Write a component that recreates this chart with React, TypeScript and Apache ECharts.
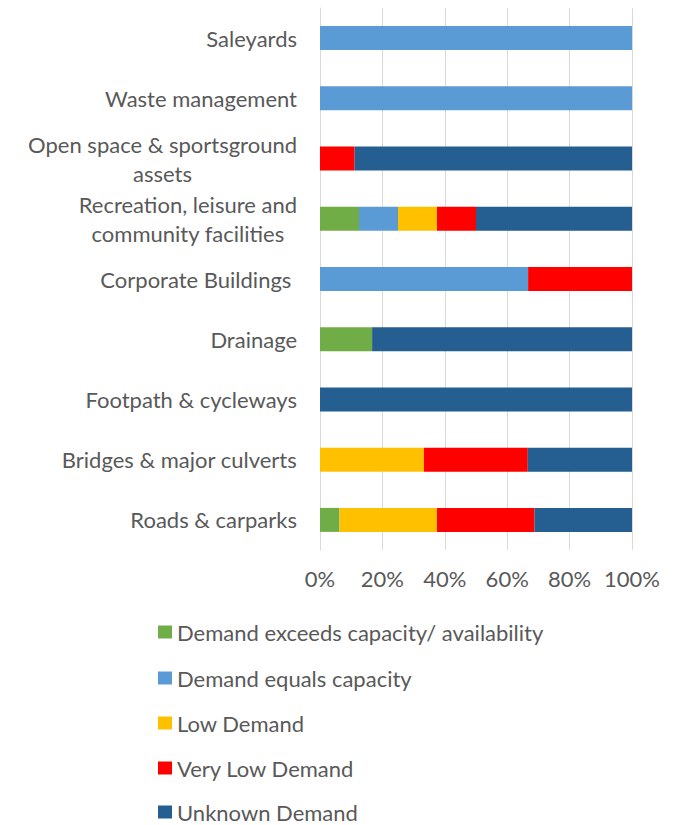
import React, { useEffect, useRef } from "react";
import * as echarts from "echarts";

const categories = [
  "Roads & carparks",
  "Bridges & major culverts",
  "Footpath & cycleways",
  "Drainage",
  "Corporate Buildings ",
  "Recreation, leisure and\ncommunity facilities",
  "Open space & sportsground\nassets",
  "Waste management",
  "Saleyards",
];

const seriesNames = [
  "Demand exceeds capacity/ availability",
  "Demand equals capacity",
  "Low Demand",
  "Very Low Demand",
  "Unknown Demand",
];

const exceedsCapacity = [6.25, 0, 0, 16.7, 0, 12.5, 0, 0, 0];
const equalsCapacity = [0, 0, 0, 0, 66.7, 12.5, 0, 100, 100];
const lowDemand = [31.25, 33.3, 0, 0, 0, 12.5, 0, 0, 0];
const veryLowDemand = [31.25, 33.3, 0, 0, 33.3, 12.5, 11.1, 0, 0];
const unknownDemand = [31.25, 33.4, 100, 83.3, 0, 50, 88.9, 0, 0];

const xTicks = [0, 20, 40, 60, 80, 100];

const colors = ["#70ad47", "#5b9bd5", "#ffc000", "#ff0000", "#255e91"];

const FONT = "Lato";
const TEXT = "#595959";
const FS = 22;
const legendTops = [621, 667, 712, 757, 801];

export default function App() {
  const ref = useRef<HTMLDivElement>(null);
  useEffect(() => {
    document.body.style.margin = "0";
    if (!ref.current) return;
    const chart = echarts.init(ref.current, undefined, { renderer: "svg" });
    const values = [exceedsCapacity, equalsCapacity, lowDemand, veryLowDemand, unknownDemand];
    chart.setOption({
      animation: false,
      textStyle: { fontFamily: FONT },
      grid: { left: 320, right: 49, top: 8, bottom: 275, containLabel: false },
      legend: seriesNames.map((name, i) => ({
        orient: "vertical",
        left: 158,
        top: legendTops[i],
        padding: 0,
        itemWidth: 14,
        itemHeight: 13,
        icon: "rect",
        data: [name],
        textStyle: { fontFamily: FONT, fontSize: FS, color: TEXT, lineHeight: 22 },
      })),
      xAxis: {
        type: "value",
        min: xTicks[0],
        max: xTicks[xTicks.length - 1],
        interval: 20,
        axisLine: { show: false },
        axisTick: { show: false },
        axisLabel: {
          formatter: "{value}%",
          fontFamily: FONT,
          fontSize: FS,
          color: TEXT,
          margin: 17,
        },
        splitLine: { show: true, lineStyle: { color: "#d9d9d9", width: 1 } },
      },
      yAxis: {
        type: "category",
        data: categories,
        axisLine: { show: true, lineStyle: { color: "#d9d9d9", width: 1 } },
        axisTick: { show: false },
        axisLabel: {
          margin: 23,
          fontFamily: FONT,
          fontSize: FS,
          color: TEXT,
          lineHeight: 29,
          formatter: (v: string) =>
            v
              .split("\n")
              .map((l) => "{c|" + l + "}")
              .join("\n"),
          rich: {
            c: { align: "center", fontFamily: FONT, fontSize: FS, color: TEXT, lineHeight: 29 },
          },
        },
      },
      series: seriesNames.map((name, i) => ({
        name,
        type: "bar",
        stack: "total",
        barWidth: 24,
        data: values[i],
        itemStyle: { color: colors[i] },
      })),
    });
    return () => chart.dispose();
  }, []);
  return <div ref={ref} style={{ width: 681, height: 825 }} />;
}
